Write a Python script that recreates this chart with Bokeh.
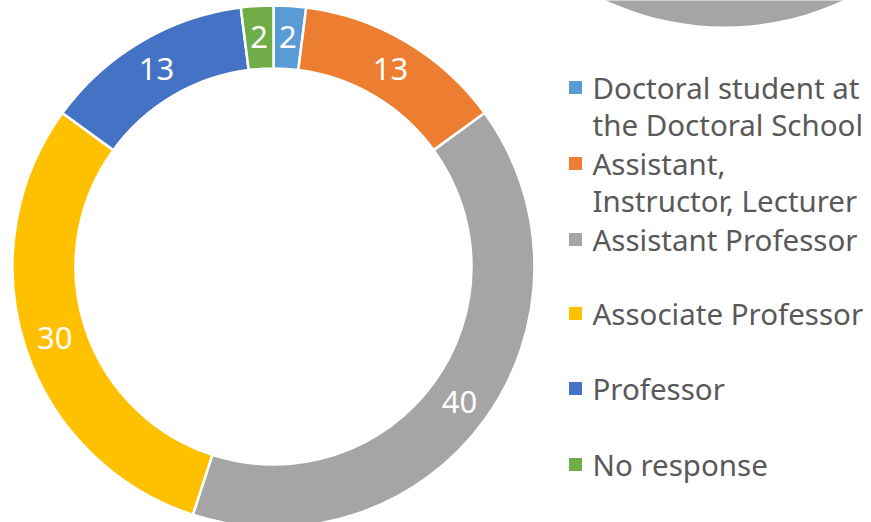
import numpy as np
from bokeh.plotting import figure
from bokeh.models import Range1d, ColumnDataSource
from bokeh.core.properties import value
from bokeh.embed import file_html
from bokeh.resources import INLINE

# ---- data ----
categories = ["Doctoral student at the Doctoral School",
              "Assistant, Instructor, Lecturer",
              "Assistant Professor",
              "Associate Professor",
              "Professor",
              "No response"]
legend_lines = [["Doctoral student at", "the Doctoral School"],
                ["Assistant,", "Instructor, Lecturer"],
                ["Assistant Professor"],
                ["Associate Professor"],
                ["Professor"],
                ["No response"]]
values = [2, 13, 40, 30, 13, 2]
colors = ["#5B9BD5", "#ED7D31", "#A5A5A5", "#FFC000", "#4472C4", "#70AD47"]

# ---- layout (page pixel coords, y measured from the top of the window) ----
W, H = 871, 522
def Y(y):
    return H - y

cx, cy = 273, 266
r_out, r_in = 261, 198
r_lab = 230

p = figure(width=W, height=H, output_backend="svg", toolbar_location=None,
           x_range=Range1d(0, W), y_range=Range1d(0, H),
           min_border=0)
p.axis.visible = False
p.grid.visible = False
p.outline_line_color = None
p.background_fill_color = "white"
p.border_fill_color = "white"

# partial grey circle at top right (from an adjacent chart)
p.circle(x=[724], y=[Y(-255)], radius=281, fill_color="#A5A5A5", line_color=None)

vals = np.array(values, dtype=float)
frac = vals / vals.sum()
cum = np.concatenate([[0], np.cumsum(frac)])
start = np.pi / 2 - 2 * np.pi * cum[:-1]
end = np.pi / 2 - 2 * np.pi * cum[1:]
mid = (start + end) / 2

src = ColumnDataSource(dict(start=start, end=end, color=colors,
                            lx=cx + r_lab * np.cos(mid), ly=Y(cy) + r_lab * np.sin(mid),
                            lab=[str(v) for v in values]))
p.annular_wedge(x=cx, y=Y(cy), inner_radius=r_in, outer_radius=r_out,
                start_angle="start", end_angle="end", direction="clock",
                fill_color="color", line_color="white", line_width=2.5, source=src)
p.text(x="lx", y="ly", text="lab", source=src, text_color="white",
       text_font=value("Noto Sans"), text_font_size="31px",
       text_align="center", text_baseline="middle")

# legend
leg_x_sq, leg_x_txt = 575, 592
entry_y = [87, 163, 239, 313, 388, 464]
line_gap = 37
sq_y, tx, ty, tt = [], [], [], []
for i, lines in enumerate(legend_lines):
    sq_y.append(Y(entry_y[i]))
    for j, ln in enumerate(lines):
        tx.append(leg_x_txt)
        ty.append(Y(entry_y[i] + j * line_gap))
        tt.append(ln)
p.scatter(x=[leg_x_sq] * len(sq_y), y=sq_y, marker="square", size=13,
          fill_color=colors, line_color=None)
p.text(x=tx, y=ty, text=tt, text_color="#595959", text_font=value("Noto Sans"),
       text_font_size="29.5px", text_align="left", text_baseline="middle")

open("out.html", "w").write(file_html(p, INLINE))
